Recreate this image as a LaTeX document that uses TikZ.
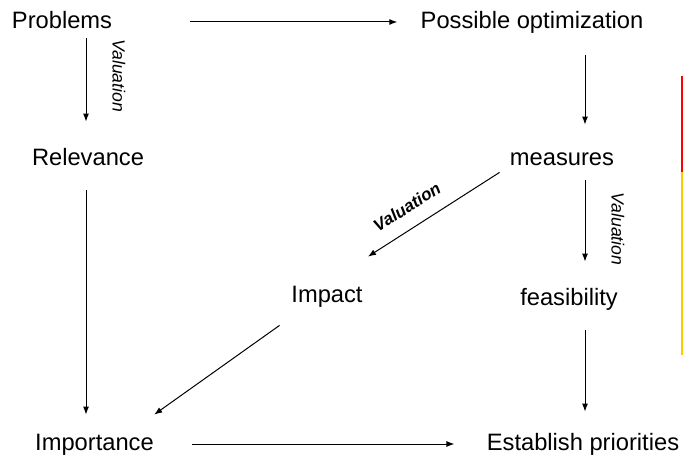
\documentclass[tikz,border=0pt]{standalone}
\usepackage{fontspec}
\setmainfont{Liberation Sans}
\usetikzlibrary{arrows.meta}
\definecolor{barred}{RGB}{255,0,0}
\definecolor{baryellow}{RGB}{255,200,0}

\begin{document}
\begin{tikzpicture}[x=0.5pt, y=-0.5pt,
		box/.style={inner sep=0pt, text height=8.6pt, text depth=2.4pt, font=\fontsize{11.85}{14}\selectfont},
		arr/.style={-{Latex[length=4pt, width=3pt]}, line width=0.5pt},
		vlab/.style={inner xsep=0pt, inner ysep=13pt, text depth=0pt, font=\fontsize{8.8}{10}\selectfont\itshape},
		dlab/.style={inner sep=0pt, font=\fontsize{8.5}{10}\selectfont\bfseries\itshape}]
	\useasboundingbox (0,0) rectangle (684,459);

	\node[box] (prob) at (62,22) {Problems};
	\node[box] (opt) at (532,22) {Possible optimization};
	\node[box] (rel) at (88,159) {Relevance};
	\node[box] (meas) at (562,159) {measures};
	\node[box] (imp) at (327,296) {Impact};
	\node[box] (feas) at (569,299) {feasibility};
	\node[box] (impo) at (94.5,444) {Importance};
	\node[box] (prio) at (583,444) {Establish priorities};
	\coordinate (lcol) at (86,0);
	\coordinate (rcol) at (585,0);

	\draw[arr, shorten <=39pt, shorten >=11.5pt] (prob.east) -- (opt.west);
	\draw[arr, shorten <=2.5pt, shorten >=13pt] (prob.south -| lcol) -- (rel.north -| lcol)
		node[vlab, pos=0.37, anchor=south, rotate=-90] {Valuation};
	\draw[arr, shorten <=11pt, shorten >=11.5pt] (opt.south -| rcol) -- (meas.north -| rcol);
	\draw[arr, shorten <=10pt, shorten >=9pt] (rel.south -| lcol) -- (impo.north -| lcol);
	\draw[arr] ([shift={(-10,2)}]meas.south west) -- ([shift={(5,-28)}]imp.north east)
		node[dlab, pos=0.62, sloped, above=7pt] {Valuation};
	\draw[arr, shorten <=5pt, shorten >=13pt] (meas.south -| rcol) -- (feas.north -| rcol)
		node[vlab, midway, anchor=south, rotate=-90] {Valuation};
	\draw[arr] ([shift={(-11.5,18)}]imp.south west) -- ([shift={(0,-18)}]impo.north east);
	\draw[arr, shorten <=10pt, shorten >=10.5pt] (feas.south -| rcol) -- (prio.north -| rcol);
	\draw[arr, shorten <=19pt, shorten >=16pt] (impo.east) -- (prio.west);

	\draw[barred, line width=1pt] (682,76) -- (682,172);
	\draw[baryellow, line width=1pt] (682,172) -- (682,355);
\end{tikzpicture}
\end{document}
